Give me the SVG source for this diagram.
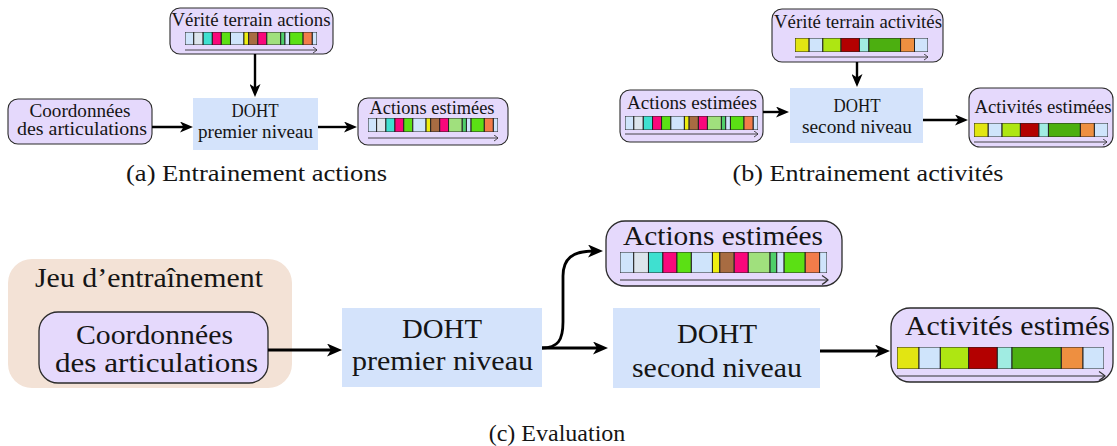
<svg xmlns="http://www.w3.org/2000/svg" xmlns:xlink="http://www.w3.org/1999/xlink" width="1117" height="446" viewBox="0 0 1117 446">
<style>
text{font-family:"Liberation Serif","Times New Roman",serif;fill:#151515;text-anchor:middle}
.s{font-size:18px}
.v{font-size:18.5px}
.l{font-size:28px}
.cap{font-size:24px}
.node{fill:#e5d9fc;stroke:#2b2b2b;stroke-width:1.1}
.nodeL{fill:#e5d9fc;stroke:#2b2b2b;stroke-width:1.3}
.blue{fill:#d4e3fb}
.conn{fill:none;stroke:#000;stroke-width:2.4}
.connL{fill:none;stroke:#000;stroke-width:2.8}
.seg{stroke:#222;stroke-width:1;vector-effect:non-scaling-stroke}
.tl{fill:none;stroke:#333;stroke-width:0.9}
.tlL{fill:none;stroke:#333;stroke-width:1.2}
</style>
<defs>
<marker id="arrS" viewBox="0 0 13 11" refX="5" refY="5.5" markerWidth="13" markerHeight="11" markerUnits="userSpaceOnUse" orient="auto">
<path d="M0,0 L13,5.5 L0,11 L3.5,5.5 z" fill="#000"/>
</marker>
<marker id="arrL" viewBox="0 0 15 13" refX="6" refY="6.5" markerWidth="15" markerHeight="13" markerUnits="userSpaceOnUse" orient="auto">
<path d="M0,0 L15,6.5 L0,13 L4,6.5 z" fill="#000"/>
</marker>
<marker id="chevS" viewBox="-5 -3.5 6 7" refX="0" refY="0" markerWidth="6" markerHeight="7" markerUnits="userSpaceOnUse" orient="auto">
<path d="M-4,-3 Q-1,-1 0,0 Q-1,1 -4,3" fill="none" stroke="#333" stroke-width="0.9"/>
</marker>
<marker id="chevL" viewBox="-7 -5 8 10" refX="0" refY="0" markerWidth="8" markerHeight="10" markerUnits="userSpaceOnUse" orient="auto">
<path d="M-6,-4.5 Q-1.5,-1.5 0,0 Q-1.5,1.5 -6,4.5" fill="none" stroke="#333" stroke-width="1.2"/>
</marker>
<symbol id="actBar" viewBox="0 0 618 60" preserveAspectRatio="none">
<rect class="seg" x="0" y="0" width="41" height="60" fill="#cfe4fb"/>
<rect class="seg" x="41" y="0" width="44" height="60" fill="#dde5ec"/>
<rect class="seg" x="85" y="0" width="43" height="60" fill="#3fe0d0"/>
<rect class="seg" x="128" y="0" width="42" height="60" fill="#f9077b"/>
<rect class="seg" x="170" y="0" width="43" height="60" fill="#5be014"/>
<rect class="seg" x="213" y="0" width="63" height="60" fill="#cfe4fb"/>
<rect class="seg" x="276" y="0" width="22" height="60" fill="#eeee10"/>
<rect class="seg" x="298" y="0" width="43" height="60" fill="#a86c42"/>
<rect class="seg" x="341" y="0" width="42" height="60" fill="#f9077b"/>
<rect class="seg" x="383" y="0" width="65" height="60" fill="#a0e07d"/>
<rect class="seg" x="448" y="0" width="20" height="60" fill="#4fcf6a"/>
<rect class="seg" x="468" y="0" width="22" height="60" fill="#cfe4fb"/>
<rect class="seg" x="490" y="0" width="63" height="60" fill="#5be014"/>
<rect class="seg" x="553" y="0" width="43" height="60" fill="#f27c4a"/>
<rect class="seg" x="596" y="0" width="22" height="60" fill="#cfe4fb"/>
</symbol>
<symbol id="actvBar" viewBox="0 0 621 60" preserveAspectRatio="none">
<rect class="seg" x="0" y="0" width="66" height="60" fill="#e2e512"/>
<rect class="seg" x="66" y="0" width="64" height="60" fill="#cfe4fb"/>
<rect class="seg" x="130" y="0" width="85" height="60" fill="#aee612"/>
<rect class="seg" x="215" y="0" width="86" height="60" fill="#b30000"/>
<rect class="seg" x="301" y="0" width="44" height="60" fill="#a0ece2"/>
<rect class="seg" x="345" y="0" width="148" height="60" fill="#4caf10"/>
<rect class="seg" x="493" y="0" width="65" height="60" fill="#ee8f40"/>
<rect class="seg" x="558" y="0" width="63" height="60" fill="#cfe4fb"/>
</symbol>
</defs>

<!-- (a) -->
<g id="a-verite">
<rect class="node" x="170" y="8" width="163" height="46" rx="10"/>
<text class="v" x="251" y="26" textLength="159" lengthAdjust="spacingAndGlyphs">Vérité terrain actions</text>
<use href="#actBar" x="185" y="32" width="132" height="13"/>
<path class="tl" d="M185,50 H317" marker-end="url(#chevS)"/>
</g>
<g id="a-coord">
<rect class="node" x="8" y="99" width="144" height="45" rx="10"/>
<text class="s" x="80" y="117" textLength="101" lengthAdjust="spacingAndGlyphs">Coordonnées</text>
<text class="s" x="82" y="135" textLength="130" lengthAdjust="spacingAndGlyphs">des articulations</text>
</g>
<g id="a-doht">
<rect class="blue" x="193" y="98" width="125" height="52"/>
<text class="s" x="255" y="117" textLength="47" lengthAdjust="spacingAndGlyphs">DOHT</text>
<text class="s" x="255.5" y="138" textLength="115" lengthAdjust="spacingAndGlyphs">premier niveau</text>
</g>
<g id="a-actions">
<rect class="node" x="358" y="98" width="150" height="47" rx="10"/>
<text class="s" x="432" y="114" textLength="125" lengthAdjust="spacingAndGlyphs">Actions estimées</text>
<use href="#actBar" x="368" y="118" width="130" height="14"/>
<path class="tl" d="M368,138 H498" marker-end="url(#chevS)"/>
</g>
<text class="cap" x="256.5" y="181" textLength="261" lengthAdjust="spacingAndGlyphs">(a) Entrainement actions</text>

<!-- (b) -->
<g id="b-verite">
<rect class="node" x="772" y="9" width="171" height="53" rx="10"/>
<text class="v" x="858" y="28" textLength="168" lengthAdjust="spacingAndGlyphs">Vérité terrain activités</text>
<use href="#actvBar" x="795" y="38" width="133" height="14"/>
<path class="tl" d="M795,57 H928" marker-end="url(#chevS)"/>
</g>
<g id="b-actions">
<rect class="node" x="620" y="90" width="143" height="52" rx="10"/>
<text class="s" x="692" y="109" textLength="130" lengthAdjust="spacingAndGlyphs">Actions estimées</text>
<use href="#actBar" x="625" y="116" width="133" height="14"/>
<path class="tl" d="M625,134 H758" marker-end="url(#chevS)"/>
</g>
<g id="b-doht">
<rect class="blue" x="790" y="88" width="133" height="55"/>
<text class="s" x="857" y="112" textLength="47" lengthAdjust="spacingAndGlyphs">DOHT</text>
<text class="s" x="857" y="133" textLength="110" lengthAdjust="spacingAndGlyphs">second niveau</text>
</g>
<g id="b-activites">
<rect class="node" x="969" y="88" width="144" height="59" rx="11"/>
<text class="s" x="1043" y="113" textLength="137" lengthAdjust="spacingAndGlyphs">Activités estimées</text>
<use href="#actvBar" x="974" y="123" width="134" height="14"/>
<path class="tl" d="M974,142 H1107" marker-end="url(#chevS)"/>
</g>
<text class="cap" x="868" y="181" textLength="271" lengthAdjust="spacingAndGlyphs">(b) Entrainement activités</text>

<!-- (c) -->
<g id="c-jeu">
<rect x="8" y="259" width="284" height="129" rx="24" fill="#f3e2d6"/>
<text class="l" x="149" y="287" textLength="228" lengthAdjust="spacingAndGlyphs">Jeu d’entraînement</text>
</g>
<g id="c-coord">
<rect class="nodeL" x="39" y="312" width="229" height="71" rx="19"/>
<text class="l" x="154.5" y="344" textLength="157" lengthAdjust="spacingAndGlyphs">Coordonnées</text>
<text class="l" x="156.5" y="372" textLength="203" lengthAdjust="spacingAndGlyphs">des articulations</text>
</g>
<g id="c-doht1">
<rect class="blue" x="342" y="308" width="200" height="79"/>
<text class="l" x="442" y="338" textLength="80" lengthAdjust="spacingAndGlyphs">DOHT</text>
<text class="l" x="442.5" y="370" textLength="181" lengthAdjust="spacingAndGlyphs">premier niveau</text>
</g>
<g id="c-actions">
<rect class="nodeL" x="606" y="221" width="236" height="65" rx="19"/>
<text class="l" x="723" y="245" textLength="200" lengthAdjust="spacingAndGlyphs">Actions estimées</text>
<use href="#actBar" x="620" y="252" width="207" height="21"/>
<path class="tlL" d="M620,280 H828" marker-end="url(#chevL)"/>
</g>
<g id="c-doht2">
<rect class="blue" x="613" y="308" width="207" height="80"/>
<text class="l" x="717" y="343" textLength="80" lengthAdjust="spacingAndGlyphs">DOHT</text>
<text class="l" x="717" y="377" textLength="170" lengthAdjust="spacingAndGlyphs">second niveau</text>
</g>
<g id="c-activites">
<rect class="nodeL" x="891" y="308" width="222" height="74" rx="19"/>
<text class="l" x="1007.5" y="335" textLength="205" lengthAdjust="spacingAndGlyphs">Activités estimés</text>
<use href="#actvBar" x="897" y="347" width="207" height="22"/>
<path class="tlL" d="M897,376 H1105" marker-end="url(#chevL)"/>
</g>
<text class="cap" x="557" y="441">(c) Evaluation</text>

<g id="connectors">
<path class="conn" d="M255,54 V89" marker-end="url(#arrS)"/>
<path class="conn" d="M152,127 H185" marker-end="url(#arrS)"/>
<path class="conn" d="M318,127 H349" marker-end="url(#arrS)"/>
<path class="conn" d="M857,62 V79" marker-end="url(#arrS)"/>
<path class="conn" d="M763,112 H781" marker-end="url(#arrS)"/>
<path class="conn" d="M923,120 H960" marker-end="url(#arrS)"/>
<path class="connL" d="M268,350 H333" marker-end="url(#arrL)"/>
<path class="connL" d="M542,348 C558,348 563,340 563,322 L563,276 C563,259 572,251 594,251" marker-end="url(#arrL)"/>
<path class="connL" d="M542,348 H599" marker-end="url(#arrL)"/>
<path class="connL" d="M820,351 H881" marker-end="url(#arrL)"/>
</g>
</svg>
